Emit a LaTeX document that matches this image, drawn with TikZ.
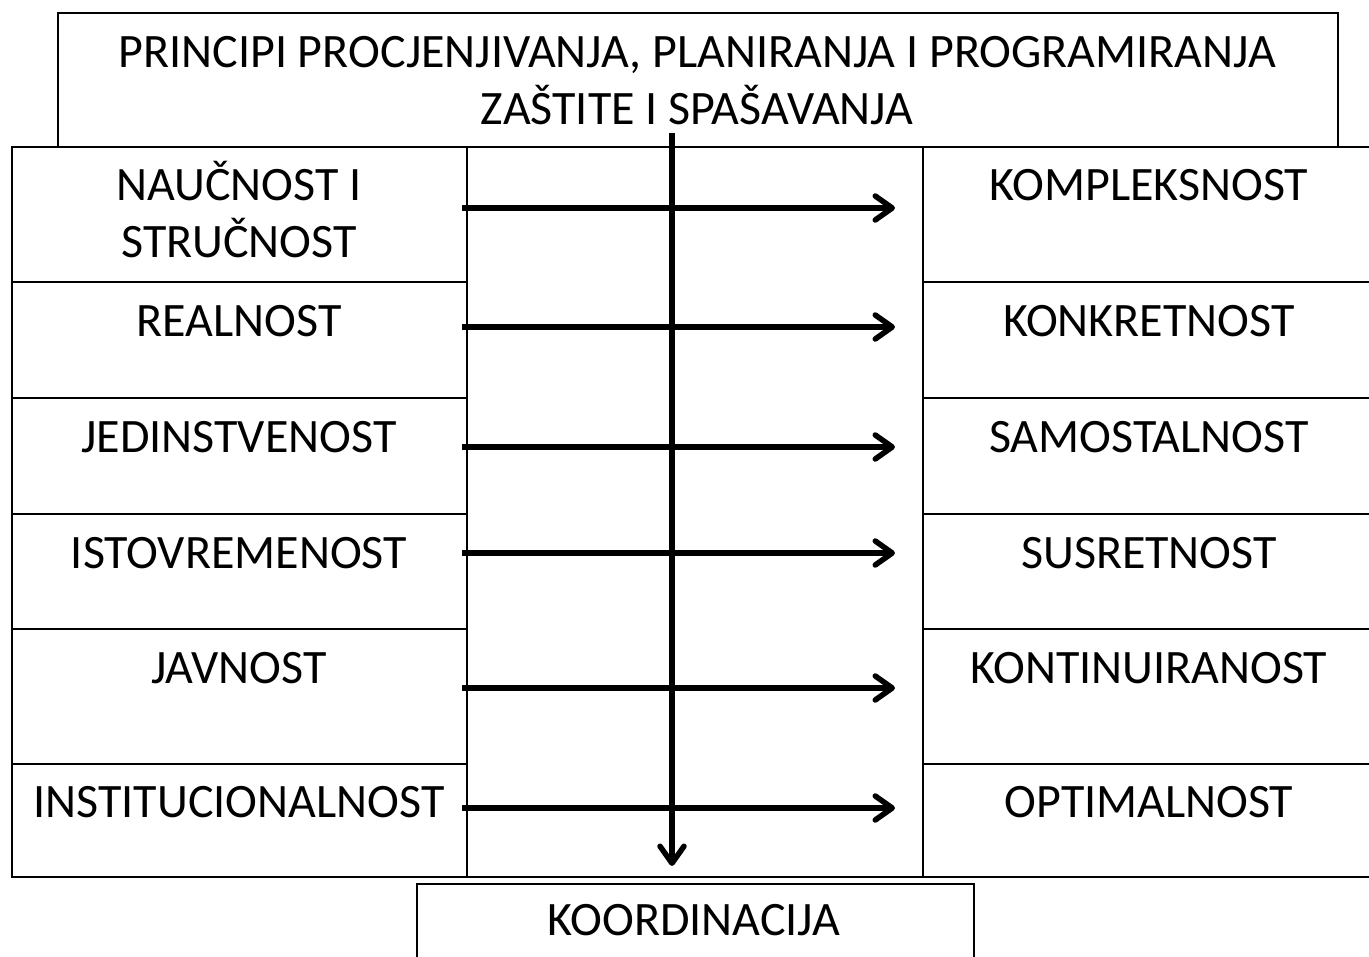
\documentclass[tikz,border=0pt]{standalone}
\usepackage{fontspec}
\setmainfont{Carlito}
\usetikzlibrary{arrows.meta}
\begin{document}
\begin{tikzpicture}[x=1pt,y=-1pt,
  cell/.style={draw=black, line width=2pt, inner sep=0pt, anchor=north west},
  lbl/.style={font=\fontsize{48}{57}\selectfont, anchor=base, inner sep=0pt, align=center},
  arr/.style={line width=5.5pt, -{Straight Barb[length=17pt,width=24pt,round]}}]
\useasboundingbox (0,0) rectangle (1369,957);
% title
\node[cell, minimum width=1280pt, minimum height=134pt] (top) at (57,12) {};
\node[lbl] (toptxt) at (697,125) {PRINCIPI PROCJENJIVANJA, PLANIRANJA I PROGRAMIRANJA\\ZAŠTITE I SPAŠAVANJA};
% middle
\node[cell, minimum width=456pt, minimum height=730pt] (mid) at (466,146) {};
% left column
\node[cell, minimum width=455pt, minimum height=135pt] (l1) at (11,146) {};
\node[cell, minimum width=455pt, minimum height=116pt] (l2) at (11,281) {};
\node[cell, minimum width=455pt, minimum height=116pt] (l3) at (11,397) {};
\node[cell, minimum width=455pt, minimum height=115pt] (l4) at (11,513) {};
\node[cell, minimum width=455pt, minimum height=135pt] (l5) at (11,628) {};
\node[cell, minimum width=455pt, minimum height=113pt] (l6) at (11,763) {};
% right column
\node[cell, minimum width=460pt, minimum height=135pt] (r1) at (922,146) {};
\node[cell, minimum width=460pt, minimum height=116pt] (r2) at (922,281) {};
\node[cell, minimum width=460pt, minimum height=116pt] (r3) at (922,397) {};
\node[cell, minimum width=460pt, minimum height=115pt] (r4) at (922,513) {};
\node[cell, minimum width=460pt, minimum height=135pt] (r5) at (922,628) {};
\node[cell, minimum width=460pt, minimum height=113pt] (r6) at (922,763) {};
% bottom
\node[cell, minimum width=557pt, minimum height=100pt] (bot) at (416,883) {};
% labels
\node[lbl] (lt1) at (239,258) {NAUČNOST I\\STRUČNOST};
\node[lbl] (lt2) at (239,337) {REALNOST};
\node[lbl] (lt3) at (239,453) {JEDINSTVENOST};
\node[lbl] (lt4) at (239,568) {ISTOVREMENOST};
\node[lbl] (lt5) at (239,683) {JAVNOST};
\node[lbl] (lt6) at (239,817) {INSTITUCIONALNOST};
\node[lbl] (rt1) at (1149,201) {KOMPLEKSNOST};
\node[lbl] (rt2) at (1149,337) {KONKRETNOST};
\node[lbl] (rt3) at (1149,453) {SAMOSTALNOST};
\node[lbl] (rt4) at (1149,568) {SUSRETNOST};
\node[lbl] (rt5) at (1149,683) {KONTINUIRANOST};
\node[lbl] (rt6) at (1149,817) {OPTIMALNOST};
\node[lbl] (bt) at (694,935) {KOORDINACIJA};
% arrows
\foreach \i/\y in {1/208,2/327,3/447,4/553,5/688,6/808}{
  \coordinate (s\i) at (462,\y);
  \coordinate (e\i) at (895,\y);
  \draw[arr] (s\i) -- (e\i);
}
\coordinate (vs) at (672,133);
\coordinate (ve) at (672,866);
\draw[arr] (vs) -- (ve);
\end{tikzpicture}
\end{document}
